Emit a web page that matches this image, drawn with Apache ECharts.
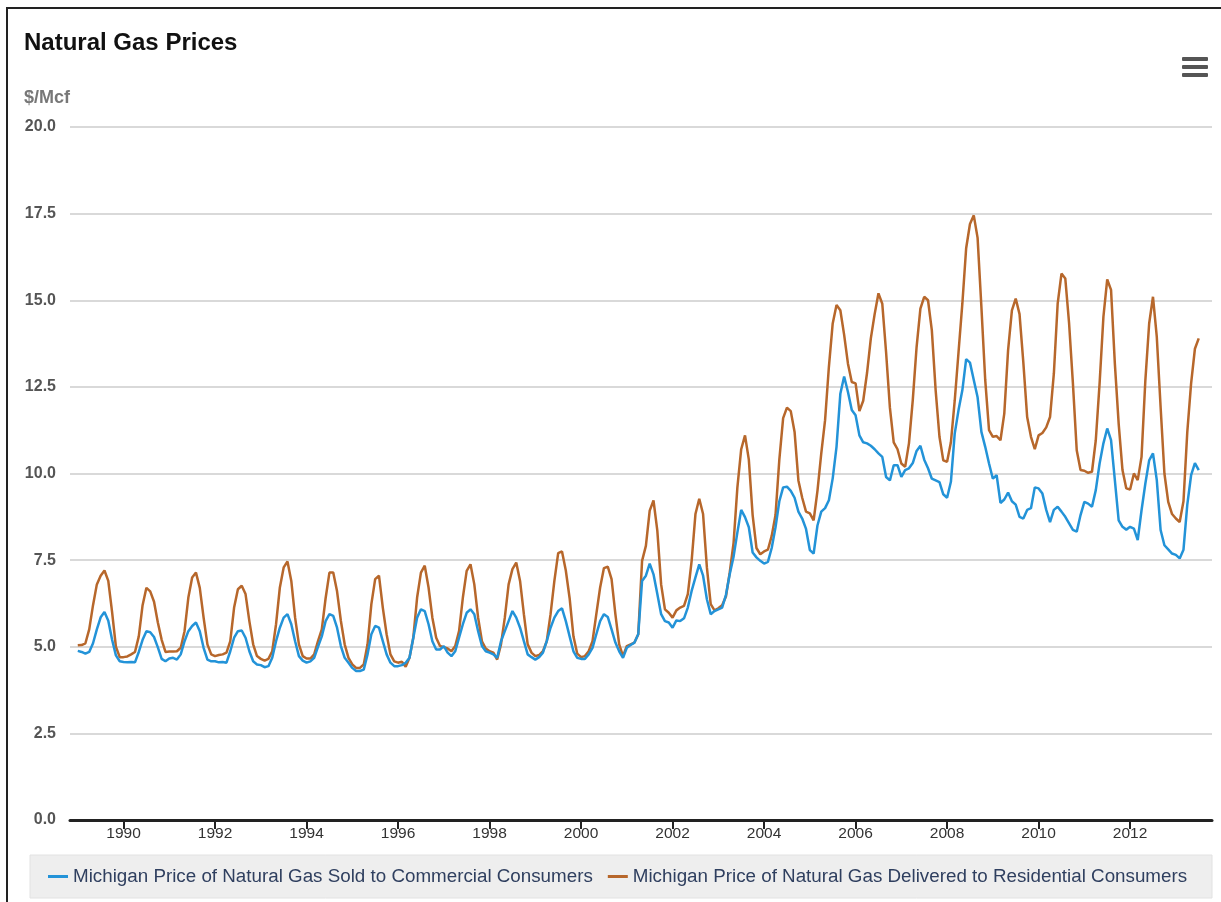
<!DOCTYPE html>
<html><head><meta charset="utf-8">
<script src="https://cdn.jsdelivr.net/npm/echarts@6/dist/echarts.min.js"></script>
<style>html,body{margin:0;padding:0;background:#fff}#chart{width:1221px;height:902px}</style>
</head><body><div id="chart"></div>
<script>
// Monthly data, Jan 1989 .. Jul 2013
const startYear = 1989;
const commercialName = 'Michigan Price of Natural Gas Sold to Commercial Consumers';
const residentialName = 'Michigan Price of Natural Gas Delivered to Residential Consumers';
const commercial = [
  4.88, 4.85, 4.80, 4.85, 5.10, 5.50, 5.85, 6.00, 5.75, 5.20, 4.75, 4.58, // 1989
  4.56, 4.55, 4.56, 4.55, 4.85, 5.20, 5.45, 5.42, 5.28, 4.98, 4.65, 4.58, // 1990
  4.66, 4.68, 4.63, 4.78, 5.16, 5.45, 5.60, 5.70, 5.45, 4.97, 4.63, 4.58, // 1991
  4.58, 4.55, 4.56, 4.54, 4.87, 5.26, 5.45, 5.47, 5.26, 4.87, 4.58, 4.49, // 1992
  4.47, 4.41, 4.44, 4.68, 5.16, 5.55, 5.84, 5.94, 5.65, 5.16, 4.73, 4.60, // 1993
  4.54, 4.58, 4.68, 5.00, 5.30, 5.74, 5.94, 5.89, 5.55, 5.02, 4.68, 4.54, // 1994
  4.39, 4.30, 4.30, 4.34, 4.78, 5.36, 5.60, 5.55, 5.16, 4.78, 4.54, 4.44, // 1995
  4.44, 4.47, 4.54, 4.68, 5.26, 5.84, 6.08, 6.03, 5.65, 5.16, 4.92, 4.92, // 1996
  5.02, 4.83, 4.73, 4.87, 5.26, 5.65, 5.98, 6.08, 5.94, 5.45, 5.02, 4.87, // 1997
  4.83, 4.78, 4.68, 5.16, 5.45, 5.74, 6.03, 5.84, 5.55, 5.16, 4.78, 4.70, // 1998
  4.63, 4.70, 4.83, 5.16, 5.55, 5.84, 6.03, 6.11, 5.74, 5.30, 4.87, 4.68, // 1999
  4.65, 4.65, 4.78, 4.97, 5.36, 5.74, 5.94, 5.86, 5.50, 5.12, 4.87, 4.68, // 2000
  4.97, 5.05, 5.12, 5.36, 6.90, 7.05, 7.40, 7.09, 6.52, 5.94, 5.74, 5.70, // 2001
  5.55, 5.76, 5.74, 5.82, 6.13, 6.61, 7.00, 7.38, 7.05, 6.37, 5.94, 6.03, // 2002
  6.08, 6.13, 6.50, 7.10, 7.60, 8.30, 8.95, 8.74, 8.45, 7.72, 7.58, 7.48, // 2003
  7.40, 7.45, 7.85, 8.45, 9.20, 9.60, 9.62, 9.50, 9.30, 8.90, 8.70, 8.40, // 2004
  7.79, 7.69, 8.50, 8.90, 9.00, 9.23, 9.86, 10.77, 12.30, 12.80, 12.35, 11.83, // 2005
  11.68, 11.10, 10.90, 10.87, 10.80, 10.70, 10.58, 10.48, 9.90, 9.80, 10.24, 10.24, // 2006
  9.90, 10.10, 10.15, 10.30, 10.65, 10.80, 10.40, 10.15, 9.85, 9.80, 9.75, 9.40, // 2007
  9.30, 9.76, 11.15, 11.83, 12.40, 13.30, 13.20, 12.70, 12.20, 11.20, 10.77, 10.29, // 2008
  9.85, 9.95, 9.15, 9.25, 9.45, 9.20, 9.10, 8.75, 8.70, 8.95, 9.00, 9.60, // 2009
  9.57, 9.42, 8.95, 8.60, 8.95, 9.04, 8.90, 8.75, 8.56, 8.37, 8.32, 8.80, // 2010
  9.18, 9.13, 9.04, 9.52, 10.29, 10.87, 11.30, 10.96, 9.81, 8.65, 8.46, 8.38, // 2011
  8.46, 8.41, 8.08, 8.94, 9.71, 10.38, 10.58, 9.81, 8.37, 7.93, 7.81, 7.69, // 2012
  7.65, 7.55, 7.80, 9.10, 9.95, 10.30, 10.10 // 2013
];
const residential = [
  5.04, 5.05, 5.10, 5.50, 6.20, 6.80, 7.05, 7.20, 6.90, 6.00, 5.00, 4.70, // 1989
  4.70, 4.72, 4.78, 4.85, 5.30, 6.20, 6.70, 6.60, 6.30, 5.70, 5.20, 4.85, // 1990
  4.86, 4.86, 4.87, 4.97, 5.45, 6.42, 7.00, 7.14, 6.70, 5.84, 5.07, 4.78, // 1991
  4.73, 4.76, 4.78, 4.83, 5.16, 6.13, 6.66, 6.76, 6.52, 5.74, 5.07, 4.73, // 1992
  4.65, 4.60, 4.65, 4.87, 5.65, 6.71, 7.29, 7.46, 6.90, 5.84, 5.07, 4.73, // 1993
  4.66, 4.66, 4.78, 5.16, 5.50, 6.40, 7.14, 7.14, 6.60, 5.75, 5.07, 4.68, // 1994
  4.49, 4.39, 4.39, 4.49, 5.07, 6.23, 6.95, 7.05, 6.13, 5.36, 4.78, 4.58, // 1995
  4.54, 4.57, 4.42, 4.68, 5.26, 6.42, 7.14, 7.34, 6.71, 5.84, 5.26, 5.02, // 1996
  4.99, 4.95, 4.87, 5.02, 5.45, 6.42, 7.19, 7.38, 6.80, 5.84, 5.16, 4.95, // 1997
  4.87, 4.83, 4.63, 5.07, 5.84, 6.80, 7.24, 7.43, 6.90, 5.94, 5.07, 4.83, // 1998
  4.73, 4.76, 4.87, 5.16, 5.94, 6.90, 7.70, 7.75, 7.20, 6.40, 5.30, 4.80, // 1999
  4.70, 4.73, 4.87, 5.16, 5.94, 6.71, 7.27, 7.31, 6.95, 5.94, 5.07, 4.73, // 2000
  5.02, 5.07, 5.12, 5.36, 7.48, 7.91, 8.93, 9.22, 8.35, 6.80, 6.08, 5.98, // 2001
  5.84, 6.05, 6.13, 6.18, 6.52, 7.48, 8.83, 9.27, 8.83, 7.29, 6.23, 6.05, // 2002
  6.11, 6.20, 6.45, 7.15, 8.00, 9.60, 10.70, 11.10, 10.40, 8.80, 7.85, 7.67, // 2003
  7.75, 7.80, 8.20, 8.80, 10.40, 11.60, 11.90, 11.80, 11.20, 9.80, 9.30, 8.90, // 2004
  8.85, 8.65, 9.50, 10.58, 11.54, 13.08, 14.33, 14.86, 14.71, 14.00, 13.17, 12.64, // 2005
  12.60, 11.80, 12.10, 12.90, 13.90, 14.60, 15.20, 14.90, 13.50, 11.90, 10.90, 10.70, // 2006
  10.29, 10.19, 10.87, 12.12, 13.65, 14.76, 15.10, 15.00, 14.13, 12.40, 11.06, 10.38, // 2007
  10.34, 10.90, 12.10, 13.50, 14.90, 16.50, 17.20, 17.45, 16.80, 14.80, 12.70, 11.25, // 2008
  11.06, 11.08, 10.96, 11.73, 13.56, 14.71, 15.05, 14.60, 13.20, 11.63, 11.06, 10.70, // 2009
  11.10, 11.17, 11.33, 11.63, 12.88, 14.90, 15.77, 15.63, 14.33, 12.60, 10.67, 10.10, // 2010
  10.08, 10.02, 10.05, 10.96, 12.60, 14.52, 15.60, 15.30, 13.17, 11.44, 10.10, 9.57, // 2011
  9.54, 10.00, 9.81, 10.48, 12.69, 14.33, 15.10, 13.94, 11.92, 10.00, 9.18, 8.83, // 2012
  8.70, 8.60, 9.20, 11.20, 12.60, 13.60, 13.90 // 2013
];
const xTickYears = [1990, 1992, 1994, 1996, 1998, 2000, 2002, 2004, 2006, 2008, 2010, 2012];
const yMin = 0, yMax = 20, yStep = 2.5;

const toPoints = arr => arr.map((v, i) => [startYear + i / 12, v]);
const FONT = '"Liberation Sans", Arial, sans-serif';

const chart = echarts.init(document.getElementById('chart'), null, {renderer: 'canvas'});
chart.setOption({
  animation: false,
  backgroundColor: '#ffffff',
  textStyle: {fontFamily: FONT},
  title: {
    text: 'Natural Gas Prices', left: 24, top: 31, padding: 0,
    textStyle: {fontSize: 24, fontWeight: 'bold', color: '#111', fontFamily: FONT}
  },
  grid: {left: 70, right: 9, top: 127, bottom: 82},
  xAxis: {
    type: 'value', min: 1988.83, max: 2013.79,
    axisLine: {lineStyle: {color: '#222', width: 3}},
    axisTick: {customValues: xTickYears, length: 9, lineStyle: {color: '#222', width: 2}},
    axisLabel: {customValues: xTickYears, formatter: v => String(v), color: '#333', fontSize: 15.5, margin: 6, fontFamily: FONT},
    splitLine: {show: false}
  },
  yAxis: {
    type: 'value', min: yMin, max: yMax, interval: yStep,
    axisLine: {show: false}, axisTick: {show: false},
    axisLabel: {formatter: v => v.toFixed(1), color: '#555', fontSize: 16, fontWeight: 'bold', margin: 14, fontFamily: FONT},
    splitLine: {lineStyle: {color: '#cccccc', width: 1.5}}
  },
  legend: {
    left: 48, top: 867, padding: 0, itemGap: 15, itemWidth: 20, itemHeight: 3, icon: 'rect',
    textStyle: {fontSize: 18.8, color: '#2f3f5f', fontFamily: FONT},
    data: [commercialName, residentialName]
  },
  graphic: [
    {type: 'rect', shape: {x: 6, y: 7, width: 1215, height: 2}, style: {fill: '#222'}, z: 10},
    {type: 'rect', shape: {x: 6, y: 7, width: 2, height: 895}, style: {fill: '#222'}, z: 10},
    {type: 'rect', shape: {x: 30, y: 855, width: 1182, height: 43}, style: {fill: '#eeeeee', stroke: '#e2e2e2', lineWidth: 1}, z: -1},
    {type: 'rect', shape: {x: 1182, y: 57, width: 26, height: 4, r: 1}, style: {fill: '#555'}},
    {type: 'rect', shape: {x: 1182, y: 65, width: 26, height: 4, r: 1}, style: {fill: '#555'}},
    {type: 'rect', shape: {x: 1182, y: 73, width: 26, height: 4, r: 1}, style: {fill: '#555'}},
    {type: 'text', x: 24, y: 89, style: {text: '$/Mcf', font: 'bold 18px ' + FONT, fill: '#777'}}
  ],
  series: [
    {name: commercialName, type: 'line', data: toPoints(commercial), showSymbol: false,
     lineStyle: {width: 2.5, color: '#2393d8'}, itemStyle: {color: '#2393d8'}, z: 3},
    {name: residentialName, type: 'line', data: toPoints(residential), showSymbol: false,
     lineStyle: {width: 2.5, color: '#b7672b'}, itemStyle: {color: '#b7672b'}, z: 2}
  ]
});
</script></body></html>
